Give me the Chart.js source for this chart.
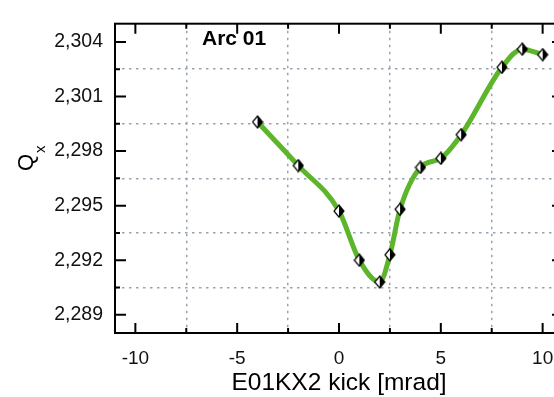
<!DOCTYPE html>
<html>
<head>
<meta charset="utf-8">
<script src="https://cdn.jsdelivr.net/npm/chart.js@4/dist/chart.umd.min.js"></script>
<style>
    html, body { margin: 0; padding: 0; background: #fff; overflow: hidden; }
    #wrap { width: 572px; height: 397px; }
</style>
</head>
<body>
<div id="wrap"><canvas id="qxChart" width="572" height="397"></canvas></div>
<script>
// Tune Qx vs E01KX2 kick (Arc 01)

const kick = [-4, -2, 0, 1, 2, 2.5, 3, 4, 5, 6, 8, 9, 10];
const qx = [2.2996, 2.2972, 2.2947, 2.2920, 2.2908, 2.2923, 2.2948, 2.2971, 2.2976, 2.2989, 2.3026, 2.3036, 2.3033];

const xTickValues = [-10, -7.5, -5, -2.5, 0, 2.5, 5, 7.5, 10];
const xTickLabels = ['-10', '', '-5', '', '0', '', '5', '', '10'];
const yTickValues = [2.289, 2.2905, 2.292, 2.2935, 2.295, 2.2965, 2.298, 2.2995, 2.301, 2.3025, 2.304];
const yTickLabels = ['2,289', '', '2,292', '', '2,295', '', '2,298', '', '2,301', '', '2,304'];

const FONT = "'Liberation Sans', Arial, sans-serif";
const GRID_COLOR = '#97a3b0';

// Half white / half black diamond marker
function makeDiamond() {
    const c = document.createElement('canvas');
    c.width = 12;
    c.height = 14;
    const g = c.getContext('2d');
    g.beginPath();
    g.moveTo(6, 1); g.lineTo(6, 13); g.lineTo(1, 7); g.closePath();
    g.fillStyle = '#ffffff';
    g.fill();
    g.beginPath();
    g.moveTo(6, 1); g.lineTo(11, 7); g.lineTo(6, 13); g.closePath();
    g.fillStyle = '#000000';
    g.fill();
    g.beginPath();
    g.moveTo(6, 1); g.lineTo(11, 7); g.lineTo(6, 13); g.lineTo(1, 7); g.closePath();
    g.strokeStyle = '#000000';
    g.lineWidth = 1.2;
    g.stroke();
    return c;
}

// Frame, inward ticks and titles
const framePlugin = {
    id: 'frame',
    afterDraw(chart) {
        const { ctx, chartArea: a, scales } = chart;
        ctx.save();
        ctx.strokeStyle = '#000';
        ctx.lineWidth = 2;
        ctx.strokeRect(a.left, a.top, a.right - a.left, a.bottom - a.top);

        ctx.beginPath();
        xTickValues.forEach((v, i) => {
            const len = xTickLabels[i] ? 10 : 5;
            const px = scales.x.getPixelForValue(v);
            ctx.moveTo(px, a.bottom); ctx.lineTo(px, a.bottom - len);
            ctx.moveTo(px, a.top); ctx.lineTo(px, a.top + len);
        });
        yTickValues.forEach((v, i) => {
            const len = yTickLabels[i] ? 11 : 5;
            const py = scales.y.getPixelForValue(v);
            ctx.moveTo(a.left, py); ctx.lineTo(a.left + len, py);
            ctx.moveTo(a.right, py); ctx.lineTo(a.right - len, py);
        });
        ctx.stroke();

        ctx.fillStyle = '#000';
        ctx.textBaseline = 'alphabetic';

        // Arc label
        ctx.font = 'bold 21px ' + FONT;
        ctx.textAlign = 'left';
        ctx.fillText('Arc 01', 202, 45);

        // X title
        ctx.font = '24.5px ' + FONT;
        ctx.textAlign = 'center';
        ctx.fillText('E01KX2 kick [mrad]', (a.left + a.right) / 2, 390);

        // Y title Q with subscript x
        ctx.translate(33, 171);
        ctx.rotate(-Math.PI / 2);
        ctx.textAlign = 'left';
        ctx.font = '22px ' + FONT;
        ctx.fillText('Q', 0, 0);
        ctx.font = '15px ' + FONT;
        ctx.fillText('x', 18, 12);
        ctx.restore();
    }
};

const ctx = document.getElementById('qxChart').getContext('2d');

new Chart(ctx, {
    type: 'scatter',
    data: {
        datasets: [{
            label: 'fit',
            data: kick.map((k, i) => ({ x: k, y: qx[i] })),
            showLine: true,
            borderColor: '#5db52c',
            borderWidth: 5,
            pointRadius: 0,
            cubicInterpolationMode: 'monotone',
            order: 2
        }, {
            label: 'Qx',
            data: kick.map((k, i) => ({ x: k, y: qx[i] })),
            showLine: false,
            pointStyle: makeDiamond(),
            order: 1
        }]
    },
    options: {
        responsive: false,
        animation: false,
        layout: {
            padding: { left: 0, top: 7, right: 9, bottom: 0 }
        },
        plugins: {
            legend: { display: false },
            tooltip: { enabled: false }
        },
        scales: {
            x: {
                type: 'linear',
                min: -11,
                max: 11,
                afterBuildTicks: (scale) => {
                    scale.ticks = xTickValues.map(v => ({ value: v }));
                },
                afterFit: (scale) => { scale.height = 64; },
                border: { display: false, dash: [2.5, 4.5] },
                grid: {
                    drawTicks: false,
                    lineWidth: 1.5,
                    color: (c) => xTickLabels[c.index] ? 'rgba(0,0,0,0)' : GRID_COLOR
                },
                ticks: {
                    autoSkip: false,
                    maxRotation: 0,
                    padding: 14,
                    color: '#111',
                    font: { family: FONT, size: 19 },
                    callback: (value, index) => xTickLabels[index]
                }
            },
            y: {
                type: 'linear',
                min: 2.288,
                max: 2.305,
                afterBuildTicks: (scale) => {
                    scale.ticks = yTickValues.map(v => ({ value: v }));
                },
                afterFit: (scale) => { scale.width = 115; },
                border: { display: false, dash: [2.5, 4.5] },
                grid: {
                    drawTicks: false,
                    lineWidth: 1.5,
                    color: (c) => yTickLabels[c.index] ? 'rgba(0,0,0,0)' : GRID_COLOR
                },
                ticks: {
                    autoSkip: false,
                    padding: 12,
                    color: '#111',
                    font: { family: FONT, size: 19.5 },
                    callback: (value, index) => yTickLabels[index]
                }
            }
        }
    },
    plugins: [framePlugin]
});
</script>
</body>
</html>
